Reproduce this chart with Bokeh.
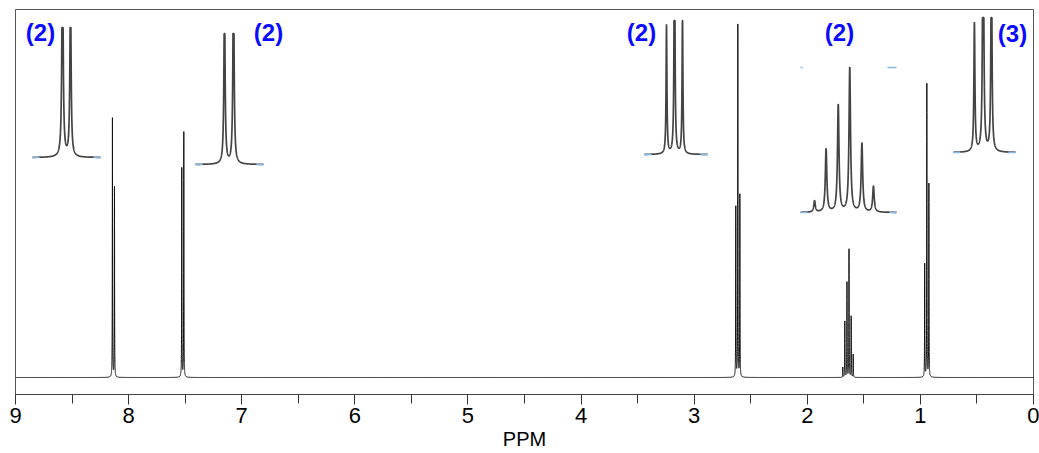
import numpy as np
from bokeh.plotting import figure
from bokeh.models import Range1d, FixedTicker, ColumnDataSource
from bokeh.core.properties import value
from bokeh.embed import file_html
from bokeh.resources import INLINE

# ---------------- data ----------------
d1_ppm = [8.143, 8.125]
d1_int = [259, 190]
d2_ppm = [7.530, 7.512]
d2_int = [209, 245]
t1_ppm = [2.632, 2.614, 2.596]
t1_int = [170, 352, 182]
sx_ppm = [1.686, 1.668, 1.649, 1.631, 1.612, 1.594]
sx_int = [10, 56, 95, 128, 61, 23]
t2_ppm = [0.962, 0.943, 0.925]
t2_int = [113, 293, 193]
integrals = ["(2)", "(2)", "(2)", "(2)", "(3)"]
tick_ppm = [0, 1, 2, 3, 4, 5, 6, 7, 8, 9]
half_ticks = [0.5, 1.5, 2.5, 3.5, 4.5, 5.5, 6.5, 7.5, 8.5]

multiplets = [(d1_ppm, d1_int), (d2_ppm, d2_int), (t1_ppm, t1_int),
              (sx_ppm, sx_int), (t2_ppm, t2_int)]

# ---------------- layout helpers (screen px -> data) ----------------
W, H = 1039, 453
FR_L, FR_R, FR_T, FR_B, BASE = 15, 1033, 9, 394, 377
PPM_PER_PX = 9.0 / (FR_R - FR_L)


def px_to_ppm(sx):
    return (FR_R - np.asarray(sx, dtype=float)) * PPM_PER_PX


def py_to_y(sy):
    return BASE - np.asarray(sy, dtype=float)


p = figure(width=W, height=H, output_backend="svg", toolbar_location=None,
           x_range=Range1d(9, 0), y_range=Range1d(-(FR_B - BASE), BASE - FR_T),
           min_border_left=FR_L, min_border_top=FR_T, min_border_right=W - FR_R,
           min_border_bottom=H - FR_B, background_fill_color="white",
           border_fill_color="white")
p.grid.visible = False
p.yaxis.visible = False
p.outline_line_color = "#555555"
p.outline_line_width = 1

# ---------------- main spectrum ----------------
all_ppm = np.concatenate([np.array(m[0]) for m in multiplets])
all_int = np.concatenate([np.array(m[1], dtype=float) for m in multiplets])
grid = [np.arange(0.0, 9.0001, 0.005), all_ppm]
for x0 in all_ppm:
    grid.append(np.arange(x0 - 0.03, x0 + 0.03, 0.0002))
xs = np.unique(np.concatenate(grid))
xs = xs[(xs >= 0) & (xs <= 9)]
gam = 0.0012
ys = np.zeros_like(xs)
for x0, h in zip(all_ppm, all_int):
    ys += h * gam ** 2 / (gam ** 2 + (xs - x0) ** 2)
p.line(xs, ys, line_color="#111111", line_width=1)

# ---------------- expanded insets ----------------
# (left px, right px, centre px, baseline px, px per ppm, scale, clip px, linewidth px)
inset_layout = [
    (32, 100, 66, 157, 444, 0.90, 130, 0.7),
    (195, 263, 228.5, 164, 500, 0.80, 131, 0.7),
    (644, 707, 674, 154, 444, 0.76, 134, 0.5),
    (800, 896, 843.5, 212, 640, 1.13, 200, 0.9),
    (953, 1015, 982.5, 152, 460, 1.14, 135, 0.6),
]
blue_x, blue_y = [], []
for (ppms, ints), (l, r, c, b, k, sc, clip, g) in zip(multiplets, inset_layout):
    sxs = np.arange(l, r + 0.001, 0.1)
    cp = np.mean(ppms)
    h = np.zeros_like(sxs)
    for x0, I in zip(ppms, ints):
        lx = c - (x0 - cp) * k
        h += sc * I * g ** 2 / (g ** 2 + (sxs - lx) ** 2)
    h = np.minimum(h, clip)
    p.line(px_to_ppm(sxs), py_to_y(b - h), line_color="#444444", line_width=1.7)
    for a, e in ((l, l + 7), (r - 7, r)):
        blue_x.append(list(px_to_ppm([a, e])))
        blue_y.append(list(py_to_y([b, b])))

# top markers of the sextet inset box
blue_x.append(list(px_to_ppm([800, 802])))
blue_y.append(list(py_to_y([67, 67])))
blue_x.append(list(px_to_ppm([887, 896])))
blue_y.append(list(py_to_y([67, 67])))
p.multi_line(blue_x, blue_y, line_color="#86b6e6", line_width=1.4)

# ---------------- integral labels ----------------
label_px = [40, 268, 641, 839, 1012]
label_py = [32, 32, 32, 32, 33]
src = ColumnDataSource(dict(x=px_to_ppm(label_px), y=py_to_y(label_py), t=integrals))
p.text(x="x", y="y", text="t", source=src, text_font=value("Liberation Sans"),
       text_font_style="bold", text_font_size="24px", text_color="#0a0aff",
       text_align="center", text_baseline="middle")

# ---------------- axis ----------------
ax = p.xaxis[0]
ax.ticker = FixedTicker(ticks=tick_ppm, minor_ticks=half_ticks)
ax.axis_line_color = "#444444"
ax.major_tick_line_color = "#333333"
ax.minor_tick_line_color = "#333333"
ax.major_tick_out = 10
ax.major_tick_in = 0
ax.minor_tick_out = 9
ax.minor_tick_in = 0
ax.major_label_standoff = 3
ax.major_label_text_font = "Liberation Sans"
ax.major_label_text_font_size = "22px"
ax.major_label_text_color = "#000000"
ax.axis_label = "PPM"
ax.axis_label_text_font = "Liberation Sans"
ax.axis_label_text_font_style = "normal"
ax.axis_label_text_font_size = "20px"
ax.axis_label_text_color = "#000000"
ax.axis_label_standoff = 2

open("out.html", "w").write(file_html(p, INLINE))
